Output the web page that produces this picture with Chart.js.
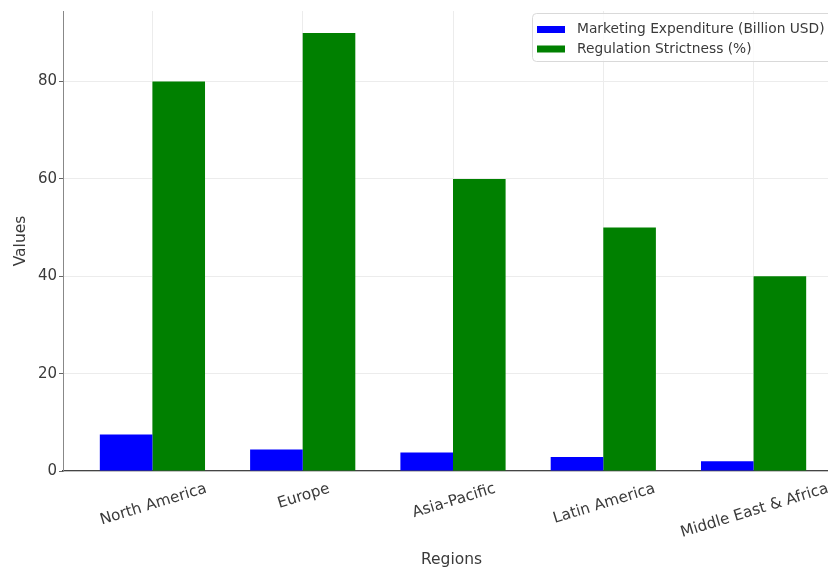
<!DOCTYPE html>
<html>
<head>
<meta charset="utf-8">
<script src="https://cdn.jsdelivr.net/npm/chart.js@4"></script>
<style>
  html, body { margin: 0; padding: 0; background: #fff; overflow: hidden; }
  #wrap { width: 840px; height: 572px; }
</style>
</head>
<body>
<div id="wrap"><canvas id="regionChart" width="840" height="572"></canvas></div>
<script>
// data
const regions = ["North America", "Europe", "Asia-Pacific", "Latin America", "Middle East & Africa"];
const marketingSpend = [7.5, 4.4, 3.8, 2.9, 2.0];   // Billion USD
const strictness = [80, 90, 60, 50, 40];             // %
const yTicks = [0, 20, 40, 60, 80];

const FONT = "'DejaVu Sans', sans-serif";
const TXT = "#3a3a3a";

// x labels centred under the tick and rotated, like matplotlib does
const tickLabels = {
    id: "tickLabels",
    afterDraw(chart) {
        const ctx = chart.ctx;
        const xs = chart.scales.x;
        const ang = 17 * Math.PI / 180;
        ctx.save();
        ctx.font = "15.3px " + FONT;
        ctx.fillStyle = TXT;
        ctx.textAlign = "center";
        ctx.textBaseline = "middle";
        regions.forEach((name, i) => {
            const w = ctx.measureText(name).width;
            const h = 17.5;
            const boxH = w * Math.sin(ang) + h * Math.cos(ang);
            const cx = xs.getPixelForValue(i) + 1;
            const cy = xs.top + 9 + boxH / 2;
            ctx.save();
            ctx.translate(cx, cy);
            ctx.rotate(-ang);
            ctx.fillText(name, 0, 0);
            ctx.restore();
        });
        ctx.restore();
    }
};

// legend box in the upper right corner of the plot
const innerLegend = {
    id: "innerLegend",
    afterDraw(chart) {
        const ctx = chart.ctx;
        const x0 = 532, y0 = 13, w = 302, h = 48;
        ctx.save();
        ctx.fillStyle = "rgba(255,255,255,0.8)";
        ctx.strokeStyle = "#d9d9d9";
        ctx.lineWidth = 1;
        ctx.beginPath();
        ctx.roundRect(x0 + 0.5, y0 + 0.5, w, h, 4);
        ctx.fill();
        ctx.stroke();
        ctx.font = "13.8px " + FONT;
        ctx.textBaseline = "middle";
        chart.data.datasets.forEach((ds, i) => {
            const cy = 29.5 + i * 19.5;
            ctx.fillStyle = ds.backgroundColor;
            ctx.fillRect(537, cy - 3.5, 28, 7);
            ctx.fillStyle = TXT;
            ctx.fillText(ds.label, 577, cy);
        });
        ctx.restore();
    }
};

const ctx = document.getElementById("regionChart").getContext("2d");
const chart = new Chart(ctx, {
    type: "bar",
    data: {
        datasets: [
            {
                label: "Marketing Expenditure (Billion USD)",
                data: regions.map((r, i) => ({ x: i, y: marketingSpend[i] })),
                backgroundColor: "#0000ff",
                borderWidth: 0
            },
            {
                label: "Regulation Strictness (%)",
                data: regions.map((r, i) => ({ x: i, y: strictness[i] })),
                backgroundColor: "#008000",
                borderWidth: 0
            }
        ]
    },
    options: {
        responsive: false,
        animation: false,
        devicePixelRatio: 1,
        layout: { padding: { top: 11, right: 0, left: 0, bottom: 0 } },
        datasets: { bar: { categoryPercentage: 0.7, barPercentage: 1.0 } },
        plugins: {
            legend: { display: false },
            tooltip: { enabled: false }
        },
        scales: {
            x: {
                type: "linear",
                min: -0.595,
                max: 4.575,
                offset: false,
                grid: { color: "#ececec", offset: false, drawTicks: false },
                border: { color: "#444", width: 1.3 },
                ticks: { display: false, stepSize: 1, includeBounds: false },
                title: {
                    display: true,
                    text: "Regions",
                    color: TXT,
                    font: { family: FONT, size: 15.5 },
                    padding: { top: 0, bottom: 3 }
                },
                afterFit: s => { s.height = 101; }
            },
            y: {
                min: 0,
                max: 94.5,
                grid: { color: "#ececec", tickColor: "#666", tickLength: 4 },
                border: { color: "#888", width: 1 },
                ticks: {
                    stepSize: 20,
                    includeBounds: false,
                    color: TXT,
                    padding: 2,
                    font: { family: FONT, size: 15 },
                    callback: v => yTicks.includes(v) ? String(v) : ""
                },
                title: {
                    display: true,
                    text: "Values",
                    color: TXT,
                    font: { family: FONT, size: 15.5 },
                    padding: { top: 12, bottom: 0 }
                },
                afterFit: s => { s.width = 63; }
            }
        }
    },
    plugins: [tickLabels, innerLegend]
});
</script>
</body>
</html>
